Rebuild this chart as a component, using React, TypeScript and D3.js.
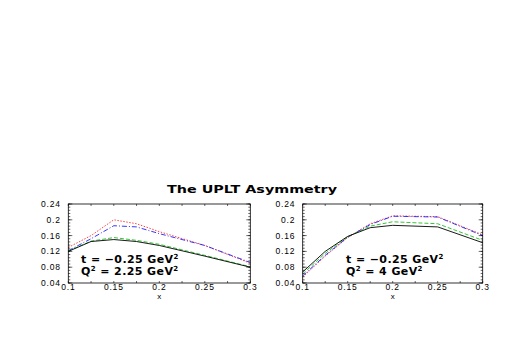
import React from 'react';
import * as d3 from 'd3';

const xs = [0.1, 0.125, 0.15, 0.175, 0.2, 0.25, 0.3];

const leftRed = [0.13, 0.16, 0.2, 0.19, 0.17, 0.135, 0.09];
const leftBlue = [0.122, 0.152, 0.185, 0.182, 0.165, 0.135, 0.092];
const leftGreen = [0.121, 0.146, 0.155, 0.148, 0.138, 0.11, 0.081];
const leftBlack = [0.12, 0.145, 0.15, 0.145, 0.135, 0.108, 0.08];

const rightRed = [0.055, 0.108, 0.155, 0.19, 0.21, 0.208, 0.162];
const rightBlue = [0.058, 0.11, 0.156, 0.188, 0.209, 0.207, 0.16];
const rightGreen = [0.063, 0.115, 0.157, 0.184, 0.195, 0.19, 0.148];
const rightBlack = [0.068, 0.12, 0.158, 0.18, 0.186, 0.182, 0.142];

const xTicks = [0.1, 0.15, 0.2, 0.25, 0.3];
const yTicks = [0.04, 0.08, 0.12, 0.16, 0.2, 0.24];

const styles = [
  { color: '#ff3030', dash: '1.5,1.5' },
  { color: '#2020ff', dash: '5,2,1,2' },
  { color: '#20c020', dash: '4,2' },
  { color: '#000000', dash: 'none' },
];

const font = 'Helvetica, "Liberation Sans", Arial, sans-serif';
const boldFont = '"DejaVu Sans", Helvetica, sans-serif';

type PanelProps = {
  left: number;
  w: number;
  textX: number;
  series: number[][];
  line1: string;
  q2: string;
};

const Panel = ({ left, w, textX, series, line1, q2 }: PanelProps) => {
  const top = 204;
  const h = 79;
  const x = d3.scaleLinear().domain([0.1, 0.3]).range([left, left + w]);
  const y = d3.scaleLinear().domain([0.04, 0.24]).range([top + h, top]);
  const line = d3.line<number>().x((_, i) => x(xs[i])).y(d => y(d));
  const xMinor = d3.range(0.1, 0.3001, 0.025);
  const yMinor = d3.range(0.04, 0.2401, 0.008);

  return (
    <g>
      {series.map((s, i) => (
        <path key={i} d={line(s) || ''} fill="none" stroke={styles[i].color}
          strokeWidth={0.9} strokeDasharray={styles[i].dash} />
      ))}
      <rect x={left} y={top} width={w} height={h} fill="none" stroke="#000" strokeWidth={0.8} />
      {xMinor.map((t, i) => (
        <g key={'xm' + i} stroke="#000" strokeWidth={0.6}>
          <line x1={x(t)} x2={x(t)} y1={top + h} y2={top + h - 2} />
          <line x1={x(t)} x2={x(t)} y1={top} y2={top + 2} />
        </g>
      ))}
      {yMinor.map((t, i) => (
        <g key={'ym' + i} stroke="#000" strokeWidth={0.6}>
          <line x1={left} x2={left + 2} y1={y(t)} y2={y(t)} />
          <line x1={left + w} x2={left + w - 2} y1={y(t)} y2={y(t)} />
        </g>
      ))}
      {yTicks.map(t => (
        <g key={'y' + t} stroke="#000" strokeWidth={0.6}>
          <line x1={left} x2={left + 4} y1={y(t)} y2={y(t)} />
          <line x1={left + w} x2={left + w - 4} y1={y(t)} y2={y(t)} />
        </g>
      ))}
      {xTicks.map(t => (
        <text key={'xt' + t} x={x(t)} y={top + h + 7} fontSize={8.5} textAnchor="middle"
          letterSpacing={0.8} fontFamily={font}>{t}</text>
      ))}
      {yTicks.map(t => (
        <text key={'yt' + t} x={left - 7.5} y={y(t) + 3} fontSize={8.5} textAnchor="end"
          letterSpacing={0.8} fontFamily={font}>{t}</text>
      ))}
      <text x={left + w / 2} y={top + h + 16} fontSize={8} textAnchor="middle" fontFamily={font}>x</text>
      <text x={textX} y={top + 59} fontSize={11} fontWeight="bold" letterSpacing={0.4}
        fontFamily={boldFont}>
        {line1}<tspan dy={-4} fontSize={7}>2</tspan>
      </text>
      <text x={textX} y={top + 70.5} fontSize={11} fontWeight="bold" letterSpacing={0.4}
        fontFamily={boldFont}>
        Q<tspan dy={-4} fontSize={7}>2</tspan><tspan dy={4}>{' = ' + q2 + ' GeV'}</tspan>
        <tspan dy={-4} fontSize={7}>2</tspan>
      </text>
    </g>
  );
};

export default function App() {
  return (
    <svg width={518} height={354} style={{ display: 'block', position: 'absolute', left: 0, top: 0 }}>
      <rect width={518} height={354} fill="#fff" />
      <text x={167} y={193} fontSize={11} fontWeight="bold" textLength={170}
        lengthAdjust="spacingAndGlyphs" fontFamily={boldFont}>
        The UPLT Asymmetry
      </text>
      <Panel left={68.3} w={182} textX={81} series={[leftRed, leftBlue, leftGreen, leftBlack]}
        line1={'t = \u22120.25 GeV'} q2="2.25" />
      <Panel left={302.7} w={180} textX={346} series={[rightRed, rightBlue, rightGreen, rightBlack]}
        line1={'t = \u22120.25 GeV'} q2="4" />
    </svg>
  );
}
